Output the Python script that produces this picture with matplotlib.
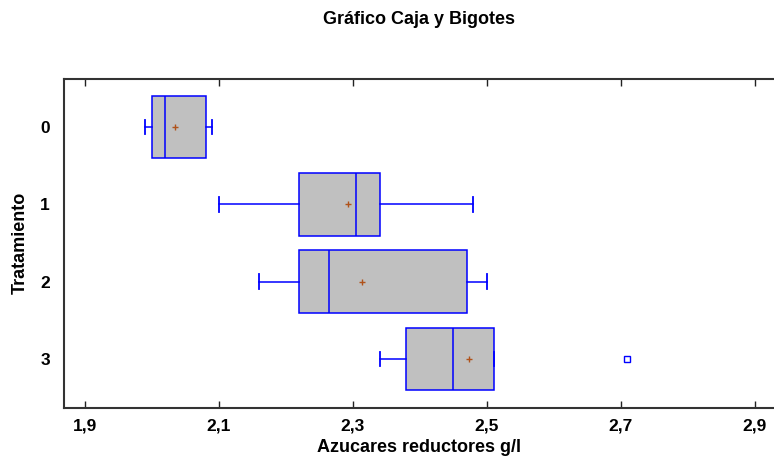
import matplotlib
matplotlib.use("Agg")
import matplotlib.pyplot as plt
from matplotlib.ticker import FuncFormatter

plt.rcParams["font.family"] = ["Liberation Sans", "DejaVu Sans"]
plt.rcParams["font.weight"] = "bold"

# five-number summaries per treatment (g/l)
tratamientos = ["0", "1", "2", "3"]
minimos = [1.99, 2.10, 2.16, 2.34]
q1 = [2.00, 2.22, 2.22, 2.38]
medianas = [2.02, 2.305, 2.265, 2.45]
q3 = [2.08, 2.34, 2.47, 2.51]
maximos = [2.09, 2.48, 2.50, 2.51]
medias = [2.034, 2.293, 2.314, 2.474]
atipicos = [[], [], [], [2.71]]

x_ticks = [1.9, 2.1, 2.3, 2.5, 2.7, 2.9]

stats = []
for i, lab in enumerate(tratamientos):
    stats.append(dict(label=lab, whislo=minimos[i], q1=q1[i], med=medianas[i],
                      q3=q3[i], whishi=maximos[i], mean=medias[i],
                      fliers=atipicos[i]))

fig = plt.figure(figsize=(7.74, 4.59), dpi=100)
ax = fig.add_axes([64 / 774, 51.3 / 459, 710 / 774, 329 / 459])

blue = "#0000FF"
ax.bxp(stats, positions=range(len(stats)), orientation="horizontal",
       widths=0.81, capwidths=0.19, patch_artist=True, showmeans=True,
       boxprops=dict(facecolor="#C0C0C0", edgecolor=blue, linewidth=1.1),
       medianprops=dict(color=blue, linewidth=1.1),
       whiskerprops=dict(color=blue, linewidth=1.1),
       capprops=dict(color=blue, linewidth=1.3),
       meanprops=dict(marker="+", markeredgecolor="#B0521A", markersize=5,
                      markeredgewidth=1.0),
       flierprops=dict(marker="s", markerfacecolor="none", markeredgecolor=blue,
                       markersize=4, markeredgewidth=1.0))

ax.set_xlim(1.8686, 1.8686 + 710 / 669.7)
ax.set_ylim(3.63, -0.625)
ax.set_yticks(range(len(tratamientos)))
ax.set_yticklabels(tratamientos)
ax.set_xticks(x_ticks)
ax.xaxis.set_major_formatter(FuncFormatter(lambda v, p: f"{v:.1f}".replace(".", ",")))

ax.tick_params(axis="x", direction="in", length=5, width=1, top=True,
               labelsize=12.5, pad=8, colors="#222222", labelcolor="black")
ax.tick_params(axis="y", length=0, labelsize=12.5, pad=10)
for sp in ax.spines.values():
    sp.set_linewidth(1.5)
    sp.set_color("#333333")
ax.spines["right"].set_visible(False)

ax.set_xlabel("Azucares reductores g/l", fontsize=13, fontweight="bold", labelpad=4)
fig.text(20 / 774, 1 - 243 / 459, "Tratamiento", rotation=90, ha="center",
         va="center", fontsize=13, fontweight="bold")
fig.text(419 / 774, 1 - 20 / 459, "Gráfico Caja y Bigotes", ha="center",
         va="center", fontsize=13, fontweight="bold")

fig.savefig("out.png", dpi=100)
